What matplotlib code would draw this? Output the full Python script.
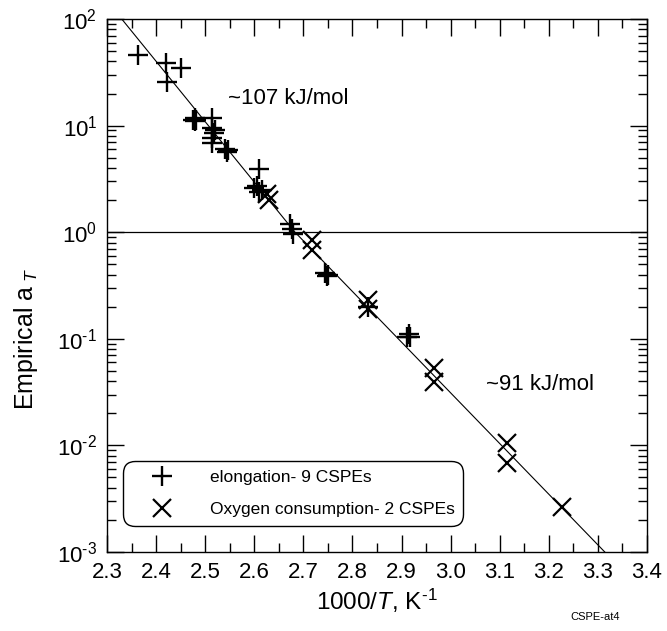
import numpy as np
import matplotlib
matplotlib.use("Agg")
import matplotlib.pyplot as plt
from matplotlib.ticker import LogLocator, MultipleLocator, NullFormatter, FuncFormatter

plt.rcParams['font.family'] = ['Liberation Sans', 'DejaVu Sans']
plt.rcParams['mathtext.fontset'] = 'custom'
plt.rcParams['mathtext.rm'] = 'Liberation Sans'
plt.rcParams['mathtext.it'] = 'Liberation Sans:italic'

# elongation data (9 CSPEs), 1000/T and a_T
elong_x = [2.363, 2.420, 2.451, 2.422,
           2.476, 2.481, 2.479, 2.479,
           2.514, 2.514,
           2.514, 2.517, 2.514, 2.519,
           2.541, 2.546, 2.544,
           2.610,
           2.600, 2.610, 2.605, 2.616,
           2.673, 2.679, 2.676,
           2.745, 2.750, 2.748,
           2.832,
           2.912, 2.918, 2.915]
elong_y = [46.0, 39.0, 35.0, 25.6,
           11.3, 11.3, 11.0, 11.7,
           11.8, 6.9,
           9.5, 8.5, 7.7, 9.0,
           6.0, 5.9, 5.7,
           3.9,
           2.6, 2.4, 2.7, 2.5,
           1.19, 0.96, 1.08,
           0.41, 0.40, 0.39,
           0.20,
           0.104, 0.104, 0.112]

# oxygen consumption data (2 CSPEs)
oxy_x = [2.626, 2.630, 2.718, 2.718, 2.832, 2.832, 2.966, 2.966, 3.115, 3.115, 3.227]
oxy_y = [2.3, 2.0, 0.85, 0.68, 0.23, 0.19, 0.053, 0.039, 0.0105, 0.0068, 0.00264]

# Arrhenius fit: ~107 kJ/mol above reference, ~91 kJ/mol below
fit_x = [2.33, 2.683, 3.314]
fit_y = [100.0, 1.0, 0.001]


def pow10(v, pos):
    e = int(round(np.log10(v)))
    if e < 0:
        return r'$10^{\text{-}%d}$' % -e
    return r'$10^{%d}$' % e


fig = plt.figure(figsize=(6.67, 6.31), dpi=100)
ax = fig.add_axes([107 / 667, 1 - 552 / 631, 540 / 667, 533 / 631])

ax.axhline(1.0, color='black', lw=0.9, zorder=1)
ax.plot(fit_x, fit_y, color='black', lw=0.8, zorder=2)
ax.plot(elong_x, elong_y, ls='none', marker='+', ms=14.5, mew=1.7, color='black',
        label='elongation- 9 CSPEs', zorder=3)
ax.plot(oxy_x, oxy_y, ls='none', marker='x', ms=13, mew=1.6, color='black',
        label='Oxygen consumption- 2 CSPEs', zorder=3)

ax.set_yscale('log')
ax.set_xlim(2.3, 3.4)
ax.set_ylim(1e-3, 1e2)
ax.xaxis.set_major_locator(MultipleLocator(0.1))
ax.xaxis.set_minor_locator(MultipleLocator(0.05))
ax.xaxis.set_major_formatter(matplotlib.ticker.FormatStrFormatter('%.1f'))
ax.yaxis.set_major_locator(LogLocator(base=10, numticks=10))
ax.yaxis.set_minor_locator(LogLocator(base=10, subs=np.arange(2, 10), numticks=10))
ax.yaxis.set_minor_formatter(NullFormatter())
ax.yaxis.set_major_formatter(FuncFormatter(pow10))

ax.tick_params(which='both', direction='in', top=True, right=True, width=1.0)
ax.tick_params(which='major', length=12, labelsize=16, pad=7)
ax.tick_params(which='minor', length=6.5)
for s in ax.spines.values():
    s.set_linewidth(1.0)

ax.set_xlabel(r'1000/$\mathit{T}$, K$^{\text{-}1}$', fontsize=17.5, labelpad=3)
ax.set_ylabel(r'Empirical a$_{\ \mathit{T}}$', fontsize=18)
ax.yaxis.set_label_coords(-0.125, 0.40)

ax.text(228 / 667, 1 - 98 / 631, '~107 kJ/mol', fontsize=16, va='center', ha='left',
        transform=fig.transFigure)
ax.text(486 / 667, 1 - 384 / 631, '~91 kJ/mol', fontsize=16, va='center', ha='left',
        transform=fig.transFigure)

leg = ax.legend(loc='lower left', bbox_to_anchor=(0.0296, 0.0488), fontsize=12.5,
                frameon=True, fancybox=True, edgecolor='black', framealpha=1,
                borderpad=0.5, handlelength=3.5, handletextpad=1.0, labelspacing=1.0,
                borderaxespad=0)
leg.get_frame().set_linewidth(1.0)
leg.get_frame().set_boxstyle('round', pad=0, rounding_size=0.7)

fig.text(595 / 667, 1 - 617 / 631, 'CSPE-at4', fontsize=8, ha='center', va='center')

fig.savefig('out.png', dpi=100)
